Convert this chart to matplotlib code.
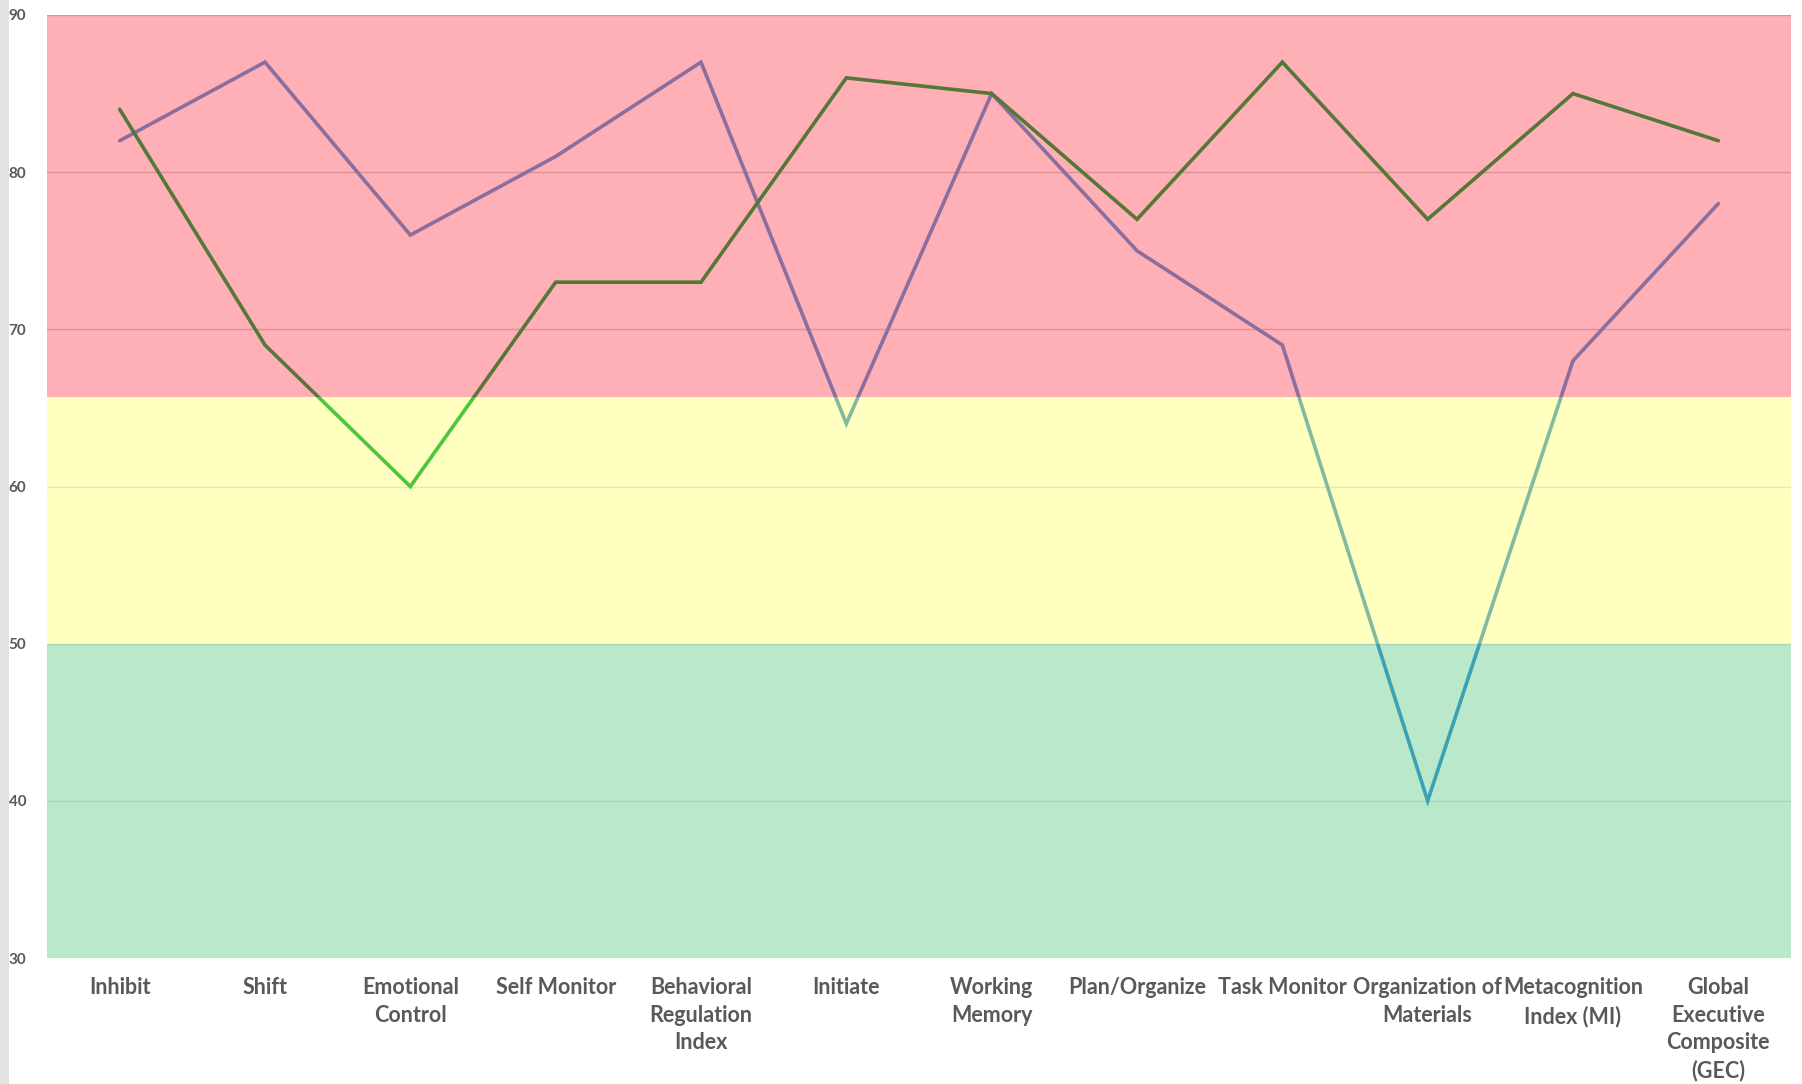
import matplotlib
matplotlib.use("Agg")
import matplotlib.pyplot as plt
from matplotlib.patches import Rectangle

categories = ["Inhibit", "Shift", "Emotional\nControl", "Self Monitor",
              "Behavioral\nRegulation\nIndex", "Initiate", "Working\nMemory",
              "Plan/Organize", "Task Monitor", "Organization of\nMaterials",
              "Metacognition\nIndex (MI)", "Global\nExecutive\nComposite\n(GEC)"]
series_a = [82, 87, 76, 81, 87, 64, 85, 75, 69, 40, 68, 78]
series_b = [84, 69, 60, 73, 73, 86, 85, 77, 87, 77, 85, 82]
y_ticks = [30, 40, 50, 60, 70, 80, 90]
bands = [(30, 50), (50, 65.7), (65.7, 90)]
band_colors = ["#b9e8ca", "#ffffc0", "#ffafb6"]
colors_a = ["#3aa2b4", "#80baa0", "#8a6e9e"]
colors_b = ["#3aa2b4", "#4cc63a", "#55773a"]

plt.rcParams['font.family'] = ['Lato', 'DejaVu Sans']
W, H = 1802, 1084
fig = plt.figure(figsize=(W / 100, H / 100), dpi=100)
ax = fig.add_axes([47 / W, 1 - 958 / H, (1791 - 47) / W, (958 - 15) / H])

fig.patches.append(Rectangle((0, 0), 9 / W, 1, transform=fig.transFigure,
                             facecolor="#e2e2e2", edgecolor="none", zorder=0))

n = len(categories)
x = list(range(n))
ax.set_xlim(-0.5, n - 0.5)
ax.set_ylim(30, 90)

for (lo, hi), c in zip(bands, band_colors):
    ax.axhspan(lo, hi, facecolor=c, edgecolor="none", zorder=0)

for t in y_ticks[1:]:
    ax.axhline(t, color="#c08080" if t > 65.7 else ("#d8d8b0" if t > 50 else "#9cc8ac"),
               lw=1.0, alpha=0.6, zorder=1)

for series, cols, z in [(series_a, colors_a, 3), (series_b, colors_b, 4)]:
    for (lo, hi), c in zip(bands, cols):
        line, = ax.plot(x, series, color=c, lw=2.6, solid_joinstyle="miter",
                        solid_capstyle="round", zorder=z)
        clip = Rectangle((-0.5, lo), n, hi - lo, transform=ax.transData)
        line.set_clip_path(clip)

for s in ax.spines.values():
    s.set_visible(False)
ax.set_xticks(x)
ax.set_xticklabels(categories, fontsize=15.5, fontweight="bold", color="#595959",
                   linespacing=1.38)
ax.set_yticks(y_ticks)
ax.set_yticklabels([str(t) for t in y_ticks], fontsize=11, fontweight="bold",
                   color="#595959")
ax.tick_params(axis="x", length=0, pad=14)
ax.tick_params(axis="y", length=0, pad=15)

fig.savefig("out.png", dpi=100)
